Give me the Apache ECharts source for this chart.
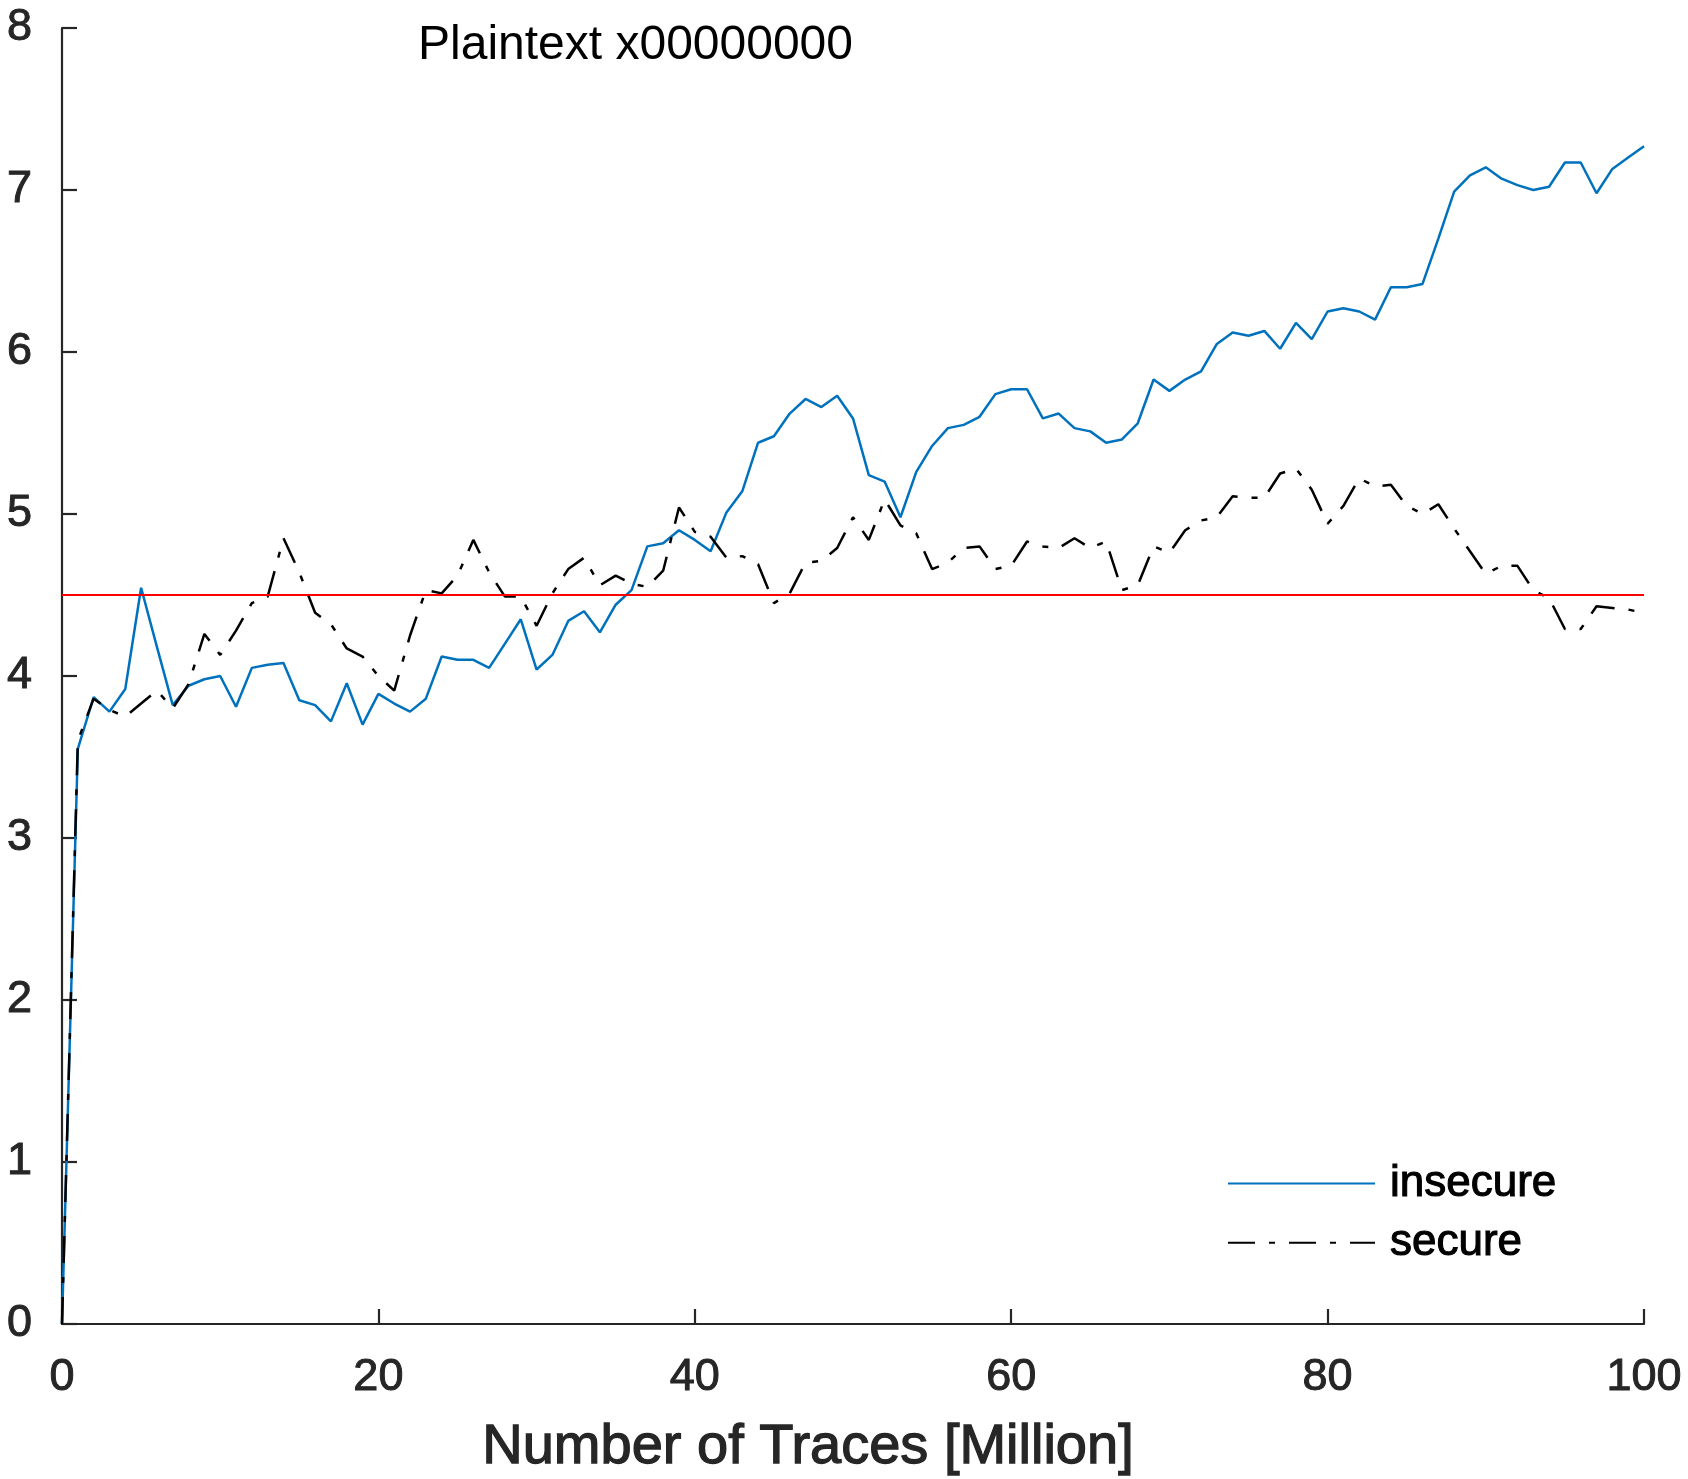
<!DOCTYPE html>
<html>
<head>
<meta charset="utf-8">
<title>Plaintext x00000000</title>
<script src="https://cdn.jsdelivr.net/npm/echarts@6/dist/echarts.min.js"></script>
<style>
  html, body { margin: 0; padding: 0; background: #ffffff; }
  #chart { width: 1688px; height: 1479px; }
</style>
</head>
<body>
<div id="chart"></div>
<script>
// Number of traces, in millions
const traces = [
  0, 1, 2, 3, 4, 5, 6, 7, 8, 9,
  10, 11, 12, 13, 14, 15, 16, 17, 18, 19,
  20, 21, 22, 23, 24, 25, 26, 27, 28, 29,
  30, 31, 32, 33, 34, 35, 36, 37, 38, 39,
  40, 41, 42, 43, 44, 45, 46, 47, 48, 49,
  50, 51, 52, 53, 54, 55, 56, 57, 58, 59,
  60, 61, 62, 63, 64, 65, 66, 67, 68, 69,
  70, 71, 72, 73, 74, 75, 76, 77, 78, 79,
  80, 81, 82, 83, 84, 85, 86, 87, 88, 89,
  90, 91, 92, 93, 94, 95, 96, 97, 98, 99,
  100
];

// t-statistic of the insecure implementation
const insecure = [
  0, 3.55, 3.87, 3.78, 3.92, 4.545, 4.18, 3.82, 3.94, 3.98,
  4.00, 3.81, 4.05, 4.07, 4.08, 3.85, 3.82, 3.72, 3.955, 3.70,
  3.89, 3.83, 3.78, 3.86, 4.12, 4.10, 4.10, 4.05, 4.20, 4.35,
  4.04, 4.13, 4.34, 4.40, 4.27, 4.44, 4.53, 4.80, 4.82, 4.90,
  4.84, 4.77, 5.01, 5.14, 5.44, 5.48, 5.62, 5.71, 5.66, 5.73,
  5.59, 5.24, 5.20, 4.98, 5.26, 5.42, 5.53, 5.55, 5.60, 5.74,
  5.77, 5.77, 5.59, 5.62, 5.53, 5.51, 5.44, 5.46, 5.56, 5.83,
  5.76, 5.83, 5.88, 6.05, 6.12, 6.10, 6.13, 6.02, 6.18, 6.08,
  6.25, 6.27, 6.25, 6.20, 6.40, 6.40, 6.42, 6.70, 6.99, 7.09,
  7.14, 7.07, 7.03, 7.00, 7.02, 7.17, 7.17, 6.98, 7.13, 7.20,
  7.27
];

// t-statistic of the secure implementation
const secure = [
  0, 3.60, 3.86, 3.79, 3.75, 3.83, 3.91, 3.80, 3.95, 4.26,
  4.13, 4.28, 4.45, 4.49, 4.85, 4.64, 4.39, 4.32, 4.17, 4.12,
  4.00, 3.91, 4.25, 4.53, 4.51, 4.62, 4.84, 4.64, 4.49, 4.49,
  4.31, 4.51, 4.66, 4.73, 4.56, 4.62, 4.57, 4.55, 4.65, 5.04,
  4.89, 4.86, 4.73, 4.74, 4.69, 4.45, 4.51, 4.70, 4.71, 4.79,
  4.98, 4.84, 5.09, 4.93, 4.88, 4.66, 4.70, 4.79, 4.80, 4.66,
  4.68, 4.83, 4.80, 4.79, 4.85, 4.79, 4.83, 4.53, 4.56, 4.80,
  4.76, 4.90, 4.96, 4.98, 5.11, 5.10, 5.10, 5.25, 5.28, 5.15,
  4.94, 5.05, 5.22, 5.17, 5.18, 5.05, 5.00, 5.06, 4.91, 4.77,
  4.63, 4.68, 4.68, 4.53, 4.48, 4.29, 4.29, 4.43, 4.42, 4.41,
  4.39
];

// Leakage detection threshold
const threshold = 4.5;

const xTicks = [0, 20, 40, 60, 80, 100];
const yTicks = [0, 1, 2, 3, 4, 5, 6, 7, 8];

const seriesNames = ['insecure', 'secure'];
const titleText = 'Plaintext x00000000';
const xAxisTitle = 'Number of Traces [Million]';

const FONT = '"Liberation Sans", Arial, Helvetica, sans-serif';
const AXIS_COLOR = '#262626';

const pairs = (ys) => traces.map((x, i) => [x, ys[i]]);

const chart = echarts.init(document.getElementById('chart'), null, { renderer: 'canvas' });

chart.setOption({
  backgroundColor: '#ffffff',
  animation: false,
  textStyle: { fontFamily: FONT },
  title: {
    text: titleText,
    left: 413,
    top: 17,
    textStyle: { fontFamily: FONT, fontSize: 48, fontWeight: 'normal', color: '#000000' }
  },
  grid: {
    left: 62,
    right: 44,
    top: 28,
    bottom: 155,
    containLabel: false,
    outerBoundsMode: 'none'
  },
  legend: {
    data: seriesNames,
    orient: 'vertical',
    left: 1227,
    top: 1161,
    itemWidth: 147,
    itemHeight: 14,
    itemGap: 14,
    padding: 0,
    itemStyle: { color: 'rgba(0,0,0,0)', borderColor: 'rgba(0,0,0,0)', borderWidth: 0 },
    textStyle: {
      fontFamily: FONT,
      fontSize: 44,
      color: '#000000',
      lineHeight: 44,
      textBorderColor: '#000000',
      textBorderWidth: 1.1,
      padding: [0, 0, 0, 10]
    }
  },
  xAxis: {
    type: 'value',
    min: 0,
    max: 100,
    interval: 20,
    name: xAxisTitle,
    nameLocation: 'middle',
    nameGap: 96,
    nameTextStyle: {
      fontFamily: FONT,
      fontSize: 56,
      color: AXIS_COLOR,
      textBorderColor: AXIS_COLOR,
      textBorderWidth: 1.3,
      padding: [0, 90, 0, 0]
    },
    axisLine: { show: true, onZero: false, lineStyle: { color: AXIS_COLOR, width: 2.2 } },
    axisTick: { show: true, inside: true, length: 15, lineStyle: { color: AXIS_COLOR, width: 2.2 } },
    axisLabel: {
      fontFamily: FONT,
      fontSize: 45,
      color: AXIS_COLOR,
      textBorderColor: AXIS_COLOR,
      textBorderWidth: 1,
      margin: 31,
      formatter: (v) => (xTicks.includes(v) ? String(v) : '')
    },
    splitLine: { show: false }
  },
  yAxis: {
    type: 'value',
    min: 0,
    max: 8,
    interval: 1,
    axisLine: { show: true, onZero: false, lineStyle: { color: AXIS_COLOR, width: 2.2 } },
    axisTick: { show: true, inside: true, length: 15, lineStyle: { color: AXIS_COLOR, width: 2.2 } },
    axisLabel: {
      fontFamily: FONT,
      fontSize: 45,
      color: AXIS_COLOR,
      textBorderColor: AXIS_COLOR,
      textBorderWidth: 1,
      margin: 30,
      formatter: (v) => (yTicks.includes(v) ? String(v) : '')
    },
    splitLine: { show: false }
  },
  series: [
    {
      name: 'insecure',
      type: 'line',
      data: pairs(insecure),
      symbol: 'none',
      lineStyle: { color: '#0072BD', width: 2.5 },
      itemStyle: { color: '#0072BD' },
      z: 2
    },
    {
      name: 'secure',
      type: 'line',
      data: pairs(secure),
      symbol: 'none',
      lineStyle: { color: '#000000', width: 2.5, type: [27, 14, 6, 14] },
      itemStyle: { color: '#000000' },
      z: 3
    },
    {
      name: 'threshold',
      type: 'line',
      data: [[traces[0], threshold], [traces[traces.length - 1], threshold]],
      symbol: 'none',
      lineStyle: { color: '#FF0000', width: 2.2 },
      itemStyle: { color: '#FF0000' },
      z: 4
    }
  ]
});
</script>
</body>
</html>
